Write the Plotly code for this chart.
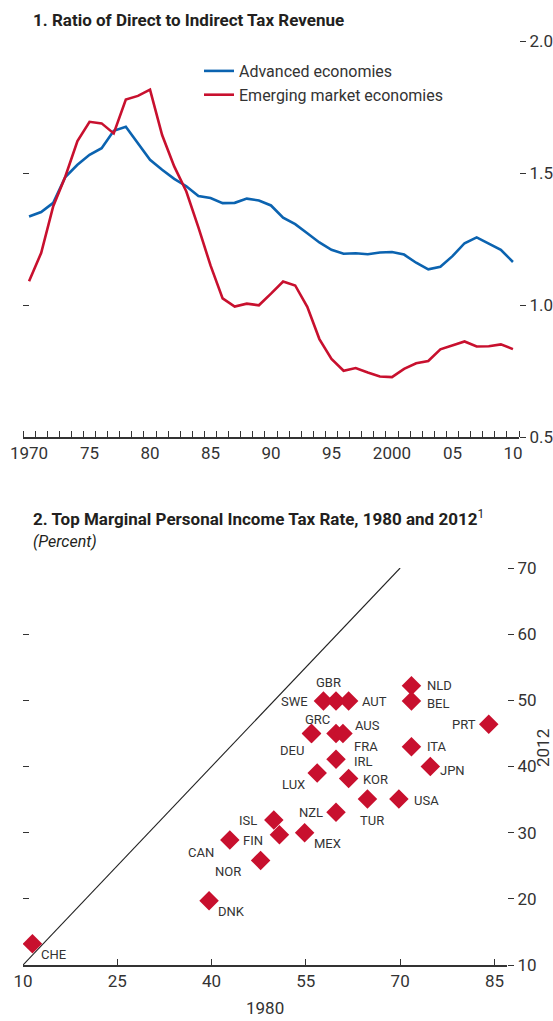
import plotly.graph_objects as go

W, H = 553, 1021
FONT = "Roboto, Liberation Sans, sans-serif"
INK = "#231f20"
GREY = "#333333"
BLUE = "#0b63b0"
RED = "#c8102e"

# panel 1: ratio of direct to indirect tax revenue
years = list(range(1970, 2011))
advanced = [1.335, 1.352, 1.387, 1.485, 1.531, 1.569, 1.594, 1.660, 1.675, 1.613,
            1.550, 1.512, 1.478, 1.450, 1.413, 1.405, 1.386, 1.387, 1.403, 1.396,
            1.377, 1.331, 1.306, 1.272, 1.237, 1.209, 1.194, 1.196, 1.192, 1.199,
            1.201, 1.191, 1.160, 1.135, 1.145, 1.185, 1.234, 1.256, 1.231, 1.209,
            1.163]
emerging = [1.090, 1.197, 1.374, 1.487, 1.621, 1.694, 1.688, 1.650, 1.778, 1.792,
            1.816, 1.644, 1.525, 1.430, 1.294, 1.150, 1.025, 0.994, 1.005, 0.999,
            1.043, 1.089, 1.074, 0.993, 0.871, 0.796, 0.751, 0.761, 0.744, 0.729,
            0.727, 0.758, 0.779, 0.788, 0.832, 0.848, 0.862, 0.843, 0.844, 0.851,
            0.833]
year_ticks = [1970, 1975, 1980, 1985, 1990, 1995, 2000, 2005, 2010]
year_labels = ["1970", "75", "80", "85", "90", "95", "2000", "05", "10"]
ratio_ticks = [0.5, 1.0, 1.5, 2.0]

# panel 2: top marginal personal income tax rate
countries = ["CHE", "DNK", "NOR", "CAN", "FIN", "ISL", "MEX", "NZL", "TUR", "USA",
             "LUX", "KOR", "IRL", "DEU", "GRC", "FRA", "AUS", "SWE", "GBR", "AUT",
             "ITA", "JPN", "NLD", "BEL", "PRT"]
rate_1980 = [11.5, 39.6, 47.8, 42.9, 50.8, 49.9, 54.8, 59.8, 64.8, 69.8,
             56.8, 61.8, 59.8, 55.9, 55.9, 59.8, 60.9, 57.8, 59.8, 61.8,
             71.8, 74.8, 71.8, 71.8, 84.1]
rate_2012 = [13.2, 19.7, 25.8, 28.9, 29.7, 31.9, 30.0, 33.1, 35.1, 35.1,
             39.0, 38.2, 41.1, 45.0, 45.0, 45.0, 45.0, 49.9, 49.9, 49.9,
             43.0, 40.0, 52.2, 49.9, 46.4]
rate_ticks_x = [10, 25, 40, 55, 70, 85]
rate_ticks_y = [10, 20, 30, 40, 50, 60, 70]
diag = [10, 70]

# label placement (xanchor, xshift, yshift) in pixels
LABEL_POS = {
    "CHE": ("left", 7, -11), "DNK": ("left", 7, -11), "NOR": ("right", -18, -11),
    "CAN": ("right", -14, -13), "FIN": ("right", -14, -6), "ISL": ("right", -15, 0),
    "MEX": ("left", 7, -11), "NZL": ("right", -11, 0), "TUR": ("left", -9, -22),
    "USA": ("left", 13, -2), "LUX": ("right", -10, -11), "KOR": ("left", 12, -1),
    "IRL": ("left", 16, -2), "DEU": ("right", -6, -17), "GRC": ("center", 6, 14),
    "FRA": ("left", 16, -13), "AUS": ("left", 10, 8), "SWE": ("right", -13, 0),
    "GBR": ("center", -8, 19), "AUT": ("left", 11, 0), "ITA": ("left", 14, 0),
    "JPN": ("left", 8, -4), "NLD": ("left", 14, 0), "BEL": ("left", 14, -2),
    "PRT": ("right", -11, 0),
}


def px_x(p):
    return p / W


def px_y(p):
    return 1 - p / H


fig = go.Figure()

fig.add_trace(go.Scatter(x=years, y=advanced, name="Advanced economies", mode="lines",
                         line=dict(color=BLUE, width=2.6), xaxis="x", yaxis="y"))
fig.add_trace(go.Scatter(x=years, y=emerging, name="Emerging market economies", mode="lines",
                         line=dict(color=RED, width=2.6), xaxis="x", yaxis="y"))

fig.add_trace(go.Scatter(x=diag, y=diag, mode="lines", showlegend=False,
                         line=dict(color="#222222", width=1.1), xaxis="x2", yaxis="y2"))
fig.add_trace(go.Scatter(x=rate_1980, y=rate_2012, mode="markers", showlegend=False,
                         marker=dict(symbol="diamond", size=15, color=RED),
                         xaxis="x2", yaxis="y2", hovertext=countries))

# invisible traces so the left-side tick axes are drawn
fig.add_trace(go.Scatter(x=[1990], y=[1.0], mode="markers", marker=dict(opacity=0),
                         xaxis="x", yaxis="y3", showlegend=False, hoverinfo="skip"))
fig.add_trace(go.Scatter(x=[50], y=[40], mode="markers", marker=dict(opacity=0),
                         xaxis="x2", yaxis="y4", showlegend=False, hoverinfo="skip"))

tick_font = dict(family=FONT, size=17, color=GREY)
common = dict(showgrid=False, zeroline=False, automargin=False, tickcolor=GREY, tickwidth=1)

fig.update_layout(
    width=W, height=H,
    margin=dict(l=0, r=0, t=0, b=0, pad=0),
    paper_bgcolor="white", plot_bgcolor="white",
    font=dict(family=FONT, color=INK),
    showlegend=True,
    legend=dict(x=px_x(199), y=px_y(54), xanchor="left", yanchor="top",
                font=dict(family=FONT, size=16, color=GREY),
                bgcolor="rgba(0,0,0,0)", itemwidth=30),
    xaxis=dict(domain=[px_x(23), px_x(519)], range=[1969.5, 2010.5], anchor="y",
               tickmode="array", tickvals=year_ticks, ticktext=year_labels,
               ticks="", tickfont=tick_font, showline=True, linecolor=GREY, linewidth=1.5,
               minor=dict(tickmode="linear", tick0=1969.5, dtick=1, ticks="inside",
                          ticklen=6, tickcolor=GREY, tickwidth=1, showgrid=False),
               **common),
    yaxis=dict(domain=[px_y(437), px_y(41)], range=[0.5, 2.0], anchor="x", side="right",
               tickvals=ratio_ticks, tickformat=".1f", ticks="outside", ticklen=6,
               tickfont=tick_font, showline=False, **common),
    yaxis3=dict(overlaying="y", range=[0.5, 2.0], anchor="x", side="left",
                tickvals=ratio_ticks, ticks="inside", ticklen=6,
                showticklabels=False, showline=False, **common),
    xaxis2=dict(domain=[px_x(23), px_x(507)], range=[10, 87], anchor="y2",
                tickvals=rate_ticks_x, ticks="inside", ticklen=6,
                tickfont=tick_font, showline=True, linecolor=GREY, linewidth=1.5, **common),
    yaxis2=dict(domain=[px_y(965), px_y(568)], range=[10, 70], anchor="x2", side="right",
                tickvals=rate_ticks_y, ticks="outside", ticklen=6,
                tickfont=tick_font, showline=False, **common),
    yaxis4=dict(overlaying="y2", range=[10, 70], anchor="x2", side="left",
                tickvals=rate_ticks_y[1:], ticks="inside", ticklen=6,
                showticklabels=False, showline=False, **common),
)

annotations = [
    dict(text="<b>1. Ratio of Direct to Indirect Tax Revenue</b>", x=px_x(31), y=px_y(20),
         xref="paper", yref="paper", xanchor="left", yanchor="middle", showarrow=False,
         font=dict(family=FONT, size=17, color=INK)),
    dict(text="<b>2. Top Marginal Personal Income Tax Rate, 1980 and 2012</b><sup>1</sup>",
         x=px_x(31), y=px_y(518), xref="paper", yref="paper", xanchor="left",
         yanchor="middle", showarrow=False, font=dict(family=FONT, size=17, color=INK)),
    dict(text="<i>(Percent)</i>", x=px_x(31), y=px_y(541), xref="paper", yref="paper",
         xanchor="left", yanchor="middle", showarrow=False,
         font=dict(family=FONT, size=16, color=INK)),
    dict(text="1980", x=px_x(265), y=px_y(1008), xref="paper", yref="paper",
         xanchor="center", yanchor="middle", showarrow=False,
         font=dict(family=FONT, size=17, color=GREY)),
    dict(text="2012", x=px_x(543), y=px_y(748), xref="paper", yref="paper", textangle=-90,
         xanchor="center", yanchor="middle", showarrow=False,
         font=dict(family=FONT, size=17, color=GREY)),
]
for name, xv, yv in zip(countries, rate_1980, rate_2012):
    anchor, dx, dy = LABEL_POS[name]
    annotations.append(dict(text=name, x=xv, y=yv, xref="x2", yref="y2", showarrow=False,
                            xanchor=anchor, yanchor="middle", xshift=dx, yshift=dy,
                            font=dict(family=FONT, size=13, color=GREY)))
fig.update_layout(annotations=annotations)

# drop the default page margin so the figure fills the window exactly
fig.write_html("out.html", config={"displayModeBar": False},
               post_script="document.body.style.margin='0';"
                           "document.documentElement.style.overflow='hidden';")
